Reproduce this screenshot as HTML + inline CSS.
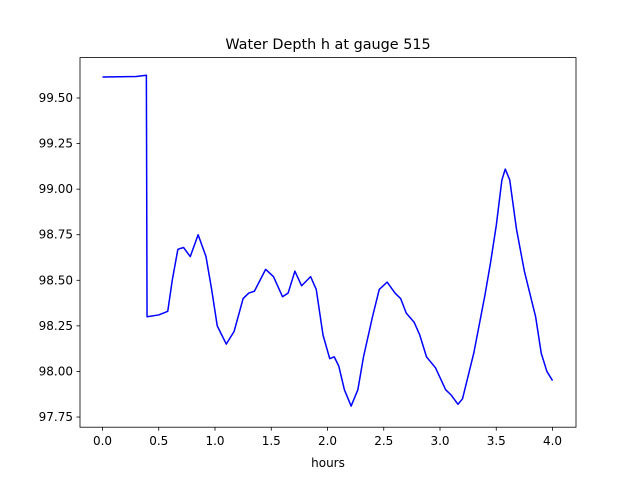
<!DOCTYPE html>
<html><head><meta charset="utf-8"><style>
body{margin:0;background:#fff;font-family:"Liberation Sans","DejaVu Sans",sans-serif;}
svg text{font-family:"DejaVu Sans","Liberation Sans",sans-serif;font-size:12px;fill:#000;}
</style></head><body>
<svg id="chart" width="640" height="480" xmlns="http://www.w3.org/2000/svg">
<rect width="640" height="480" fill="#fff"/>
<text x="328" y="49" text-anchor="middle" style="font-size:14.4px">Water Depth h at gauge 515</text>
<g id="plot"></g>
<rect x="80" y="57.6" width="496" height="369.6" fill="none" stroke="#000" stroke-width="0.8"/>
<text x="328" y="467" text-anchor="middle">hours</text>
</svg>
<script>
const xs=[0,0.3,0.39,0.396,0.5,0.58,0.62,0.67,0.72,0.78,0.85,0.92,0.97,1.02,1.1,1.17,1.25,1.3,1.35,1.45,1.52,1.6,1.65,1.71,1.77,1.85,1.9,1.96,2.02,2.06,2.1,2.15,2.21,2.27,2.32,2.4,2.46,2.53,2.6,2.65,2.7,2.77,2.82,2.88,2.96,3.05,3.1,3.16,3.2,3.3,3.4,3.45,3.5,3.55,3.58,3.62,3.68,3.75,3.85,3.9,3.95,4.0];
const ys=[99.615,99.618,99.625,98.30,98.31,98.33,98.5,98.67,98.68,98.63,98.75,98.63,98.45,98.25,98.15,98.22,98.4,98.43,98.44,98.56,98.52,98.41,98.43,98.55,98.47,98.52,98.45,98.2,98.07,98.08,98.03,97.9,97.81,97.9,98.08,98.3,98.45,98.49,98.43,98.4,98.32,98.27,98.2,98.08,98.02,97.9,97.87,97.82,97.85,98.1,98.42,98.6,98.8,99.05,99.11,99.05,98.78,98.55,98.3,98.1,98.0,97.95];
const xTicks=[0,0.5,1,1.5,2,2.5,3,3.5,4];
const xTickLabels=["0.0","0.5","1.0","1.5","2.0","2.5","3.0","3.5","4.0"];
const yTicks=[97.75,98,98.25,98.5,98.75,99,99.25,99.5];
const yTickLabels=["97.75","98.00","98.25","98.50","98.75","99.00","99.25","99.50"];
const X=v=>80+(v+0.2)*112.5;
const Y=v=>98-(v-99.5)*182.3;
const g=document.getElementById('plot');const NS="http://www.w3.org/2000/svg";
function mk(t,a){const e=document.createElementNS(NS,t);for(const k in a)e.setAttribute(k,a[k]);g.appendChild(e);return e;}
xTicks.forEach((t,i)=>{
 const l=mk('line',{x1:X(t),x2:X(t),y1:427.2,y2:430.7,stroke:'#000','stroke-width':0.8});
 
 
 const tx=mk('text',{x:X(t),y:445,'text-anchor':'middle'});tx.textContent=xTickLabels[i];
 
 
});
yTicks.forEach((t,i)=>{
 const l=mk('line',{x1:76.5,x2:80,y1:Y(t),y2:Y(t),stroke:'#000','stroke-width':0.8});
 
 
 const tx=mk('text',{x:73,y:Y(t)+4,'text-anchor':'end'});tx.textContent=yTickLabels[i];
 
 
});
const p=mk('polyline',{points:xs.map((x,i)=>X(x)+','+Y(ys[i])).join(' '),fill:'none',stroke:'#0000ff','stroke-width':1.5,'stroke-linejoin':'round'});


</script>
</body></html>
